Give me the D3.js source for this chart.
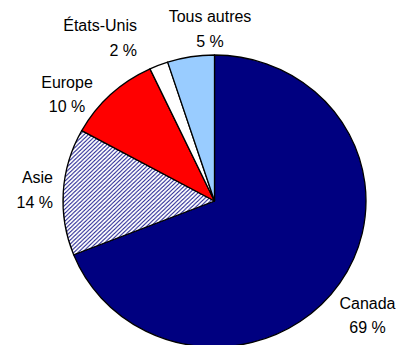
<!DOCTYPE html>
<html>
<head>
<meta charset="utf-8">
<script src="https://cdn.jsdelivr.net/npm/d3@7"></script>
<style>
  html, body { margin: 0; padding: 0; background: #fff; }
  svg { display: block; }
  text { font-family: "Liberation Sans", Arial, sans-serif; font-size: 16px; fill: #000; }
</style>
</head>
<body>
<svg id="chart" width="398" height="345"></svg>
<script>
// Share of total by region (%), clockwise from 12 o'clock
const regions = ["Canada", "Asie", "Europe", "États-Unis", "Tous autres"];
const shares  = [69, 14, 10, 2, 5];
const shareLabels = ["69 %", "14 %", "10 %", "2 %", "5 %"];

// Slice fills ("hatch" = diagonal navy hatching)
const fills = ["#000080", "url(#hatch)", "#ff0000", "#ffffff", "#99ccff"];

// Label placement: first-line baseline and text anchor for each region
const labelSpots = [
  { x: 367.5, y: 308.5, anchor: "middle" },
  { x: 53,    y: 183,   anchor: "end" },
  { x: 67,    y: 87.5,  anchor: "middle" },
  { x: 137,   y: 31,    anchor: "end" },
  { x: 210,   y: 22,    anchor: "middle" }
];
const lineGap = 24.5;

const svg = d3.select("#chart");
const cx = 214.5, cy = 201, rx = 151.5, ry = 146;

// Diagonal hatch pattern
const defs = svg.append("defs");
const pat = defs.append("pattern")
  .attr("id", "hatch")
  .attr("patternUnits", "userSpaceOnUse")
  .attr("width", 4).attr("height", 4);
pat.append("rect").attr("width", 4).attr("height", 4).attr("fill", "#ffffff");
pat.append("path")
  .attr("d", "M-1,1 L1,-1 M0,4 L4,0 M3,5 L5,3")
  .attr("stroke", "#2a2a96")
  .attr("stroke-width", 1.0);

const data = regions.map((r, i) => ({ region: r, value: shares[i], fill: fills[i], i }));

const pie = d3.pie()
  .sort(null)
  .value(d => d.value)
  .startAngle(0)
  .endAngle(2 * Math.PI);

const arc = d3.arc().innerRadius(0).outerRadius(ry);

const g = svg.append("g")
  .attr("transform", `translate(${cx},${cy}) scale(${rx / ry},1)`);

g.selectAll("path.slice")
  .data(pie(data))
  .join("path")
  .attr("class", "slice")
  .attr("d", arc)
  .attr("fill", d => d.data.fill)
  .attr("stroke", "#000")
  .attr("stroke-width", 1.3)
  .attr("stroke-linejoin", "round")
  .attr("vector-effect", "non-scaling-stroke");

// Two-line labels: region name and its share
const labels = svg.append("g").selectAll("text.lab")
  .data(data)
  .join("text")
  .attr("class", "lab")
  .attr("text-anchor", d => labelSpots[d.i].anchor)
  .attr("x", d => labelSpots[d.i].x)
  .attr("y", d => labelSpots[d.i].y);

labels.append("tspan")
  .attr("x", d => labelSpots[d.i].x)
  .text(d => d.region);
labels.append("tspan")
  .attr("x", d => labelSpots[d.i].x)
  .attr("dy", lineGap)
  .text(d => shareLabels[d.i]);
</script>
</body>
</html>
